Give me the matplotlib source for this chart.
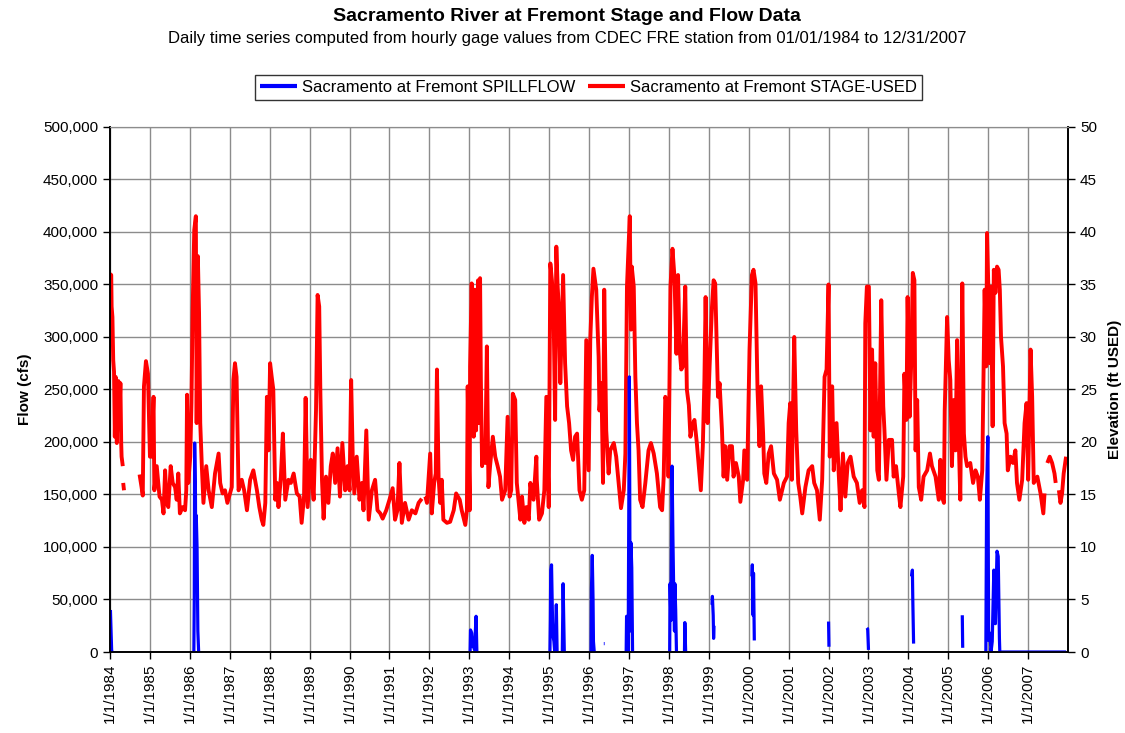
import numpy as np
import matplotlib
matplotlib.use("Agg")
import matplotlib.pyplot as plt

plt.rcParams['font.family'] = ['Liberation Sans', 'DejaVu Sans']

nan = np.nan

# daily stage at Fremont (ft USED), decimal year -> elevation; nan marks missing days
stage_pts = [
    (1984.00, 36.0), (1984.03, 35.9), (1984.04, 32.9), (1984.06, 31.9), (1984.07, 29.6),
    (1984.08, 27.8), (1984.10, 26.7), (1984.12, 20.5), (1984.14, 26.2), (1984.17, 19.9),
    (1984.21, 25.8), (1984.23, 21.8), (1984.26, 25.6), (1984.28, 19.9), (1984.29, 18.6),
    (1984.32, 17.7), (1984.325, nan), (1984.33, 16.1), (1984.35, 15.4), (1984.36, nan),
    (1984.74, 16.9), (1984.79, 15.7), (1984.82, 14.9), (1984.85, 25.3), (1984.90, 27.7),
    (1984.95, 26.5), (1985.00, 18.6), (1985.04, 18.6), (1985.09, 24.3), (1985.11, 15.4),
    (1985.17, 17.7), (1985.24, 14.8), (1985.30, 14.5), (1985.34, 13.2), (1985.38, 17.3),
    (1985.42, 14.2), (1985.46, 13.8), (1985.52, 17.7), (1985.57, 16.1), (1985.63, 15.7),
    (1985.67, 14.5), (1985.71, 17.0), (1985.75, 13.2), (1985.82, 13.8), (1985.88, 13.5),
    (1985.91, 15.4), (1985.93, 24.5), (1985.96, 16.1), (1986.01, 18.6), (1986.04, 23.7),
    (1986.07, 32.6), (1986.11, 40.2), (1986.15, 41.5), (1986.17, 21.8), (1986.20, 37.7),
    (1986.23, 32.3), (1986.26, 21.8), (1986.30, 17.7), (1986.34, 14.2), (1986.41, 17.7),
    (1986.47, 15.4), (1986.55, 13.8), (1986.63, 17.0), (1986.72, 18.9), (1986.76, 16.1),
    (1986.82, 15.1), (1986.88, 15.4), (1986.94, 14.2), (1987.05, 15.7), (1987.09, 25.9),
    (1987.13, 27.5), (1987.17, 26.2), (1987.22, 15.4), (1987.30, 16.4), (1987.36, 15.4),
    (1987.43, 13.5), (1987.51, 16.4), (1987.59, 17.3), (1987.68, 15.4), (1987.74, 13.8),
    (1987.80, 12.6), (1987.84, 12.1), (1987.89, 14.2), (1987.93, 24.3), (1987.97, 19.2),
    (1988.01, 27.5), (1988.05, 26.2), (1988.09, 25.0), (1988.14, 14.5), (1988.18, 16.1),
    (1988.22, 13.8), (1988.28, 16.7), (1988.33, 20.8), (1988.39, 14.5), (1988.47, 16.4),
    (1988.53, 16.1), (1988.60, 17.0), (1988.68, 15.1), (1988.75, 14.8), (1988.80, 12.3),
    (1988.86, 14.8), (1988.90, 24.2), (1988.95, 13.8), (1989.03, 18.3), (1989.10, 14.5),
    (1989.16, 23.0), (1989.20, 34.0), (1989.24, 32.9), (1989.27, 24.5), (1989.31, 16.4),
    (1989.35, 12.7), (1989.41, 16.7), (1989.47, 14.2), (1989.53, 17.7), (1989.58, 18.9),
    (1989.64, 16.1), (1989.70, 19.4), (1989.76, 14.8), (1989.82, 19.9), (1989.89, 15.4),
    (1989.95, 17.7), (1990.00, 15.4), (1990.04, 25.9), (1990.08, 18.6), (1990.12, 15.1),
    (1990.18, 18.6), (1990.25, 14.5), (1990.31, 16.1), (1990.35, 13.5), (1990.42, 21.1),
    (1990.48, 12.6), (1990.56, 15.4), (1990.64, 16.4), (1990.70, 13.5), (1990.77, 13.2),
    (1990.83, 12.7), (1990.92, 13.5), (1991.00, 14.5), (1991.08, 15.6), (1991.14, 12.6),
    (1991.20, 13.5), (1991.25, 18.0), (1991.31, 12.3), (1991.39, 14.2), (1991.48, 12.6),
    (1991.56, 13.5), (1991.65, 13.2), (1991.73, 14.2), (1991.81, 14.6), (1991.85, nan),
    (1991.90, 14.8), (1991.94, 14.2), (1992.02, 18.9), (1992.06, 13.2), (1992.12, 16.1),
    (1992.16, 17.0), (1992.19, 26.9), (1992.23, 16.7), (1992.27, 14.2), (1992.31, 16.4),
    (1992.35, 12.6), (1992.44, 12.3), (1992.52, 12.4), (1992.61, 13.5), (1992.67, 15.1),
    (1992.76, 14.5), (1992.81, 13.5), (1992.90, 12.1), (1992.94, 13.5), (1992.96, 25.3),
    (1993.01, 13.5), (1993.02, 27.2), (1993.06, 35.1), (1993.11, 20.5), (1993.14, 34.5),
    (1993.17, 21.1), (1993.22, 35.4), (1993.24, 21.8), (1993.27, 35.6), (1993.29, 25.9),
    (1993.32, 17.7), (1993.36, 19.9), (1993.40, 18.0), (1993.44, 29.1), (1993.48, 15.7),
    (1993.52, 17.7), (1993.59, 20.5), (1993.65, 18.6), (1993.71, 17.7), (1993.77, 16.7),
    (1993.82, 14.5), (1993.90, 15.4), (1993.96, 22.4), (1994.01, 14.8), (1994.05, 15.4),
    (1994.09, 24.6), (1994.15, 24.0), (1994.19, 16.1), (1994.28, 12.6), (1994.32, 14.8),
    (1994.38, 12.3), (1994.43, 13.8), (1994.49, 12.6), (1994.53, 16.1), (1994.57, 14.8),
    (1994.61, 14.5), (1994.68, 18.6), (1994.69, 16.4), (1994.75, 12.6), (1994.82, 13.2),
    (1994.88, 15.4), (1994.93, 24.3), (1994.99, 13.8), (1995.03, 37.0), (1995.07, 35.4),
    (1995.11, 32.6), (1995.15, 22.1), (1995.18, 38.6), (1995.21, 35.1), (1995.24, 32.9),
    (1995.28, 25.6), (1995.35, 35.9), (1995.40, 27.5), (1995.45, 23.4), (1995.50, 21.8),
    (1995.55, 19.2), (1995.60, 18.3), (1995.65, 20.5), (1995.70, 20.8), (1995.76, 15.4),
    (1995.82, 14.5), (1995.88, 15.4), (1995.93, 29.7), (1995.99, 17.3), (1996.03, 29.7),
    (1996.07, 33.8), (1996.11, 36.5), (1996.18, 34.5), (1996.24, 28.1), (1996.26, 23.0),
    (1996.31, 25.6), (1996.35, 16.1), (1996.38, 34.5), (1996.43, 21.1), (1996.49, 17.0),
    (1996.53, 19.2), (1996.62, 19.9), (1996.68, 18.6), (1996.74, 16.1), (1996.80, 13.7),
    (1996.87, 15.4), (1996.91, 18.9), (1996.95, 34.8), (1997.02, 41.5), (1997.05, 30.7),
    (1997.07, 36.7), (1997.12, 34.8), (1997.16, 26.2), (1997.20, 21.8), (1997.24, 19.2),
    (1997.28, 14.5), (1997.34, 13.8), (1997.41, 16.1), (1997.49, 19.2), (1997.55, 19.9),
    (1997.62, 18.9), (1997.70, 17.0), (1997.78, 13.8), (1997.83, 13.5), (1997.87, 16.7),
    (1997.91, 24.3), (1997.97, 23.4), (1997.99, 16.7), (1998.04, 34.8), (1998.09, 38.4),
    (1998.14, 35.7), (1998.19, 28.4), (1998.23, 35.9), (1998.27, 28.8), (1998.31, 26.9),
    (1998.35, 27.2), (1998.41, 34.8), (1998.45, 25.0), (1998.50, 23.5), (1998.54, 20.5),
    (1998.58, 21.5), (1998.64, 22.1), (1998.70, 19.9), (1998.77, 16.7), (1998.80, 15.4),
    (1998.85, 19.6), (1998.89, 25.9), (1998.92, 33.8), (1998.97, 21.8), (1999.02, 27.2),
    (1999.08, 32.9), (1999.12, 35.4), (1999.16, 35.1), (1999.21, 27.5), (1999.23, 24.3),
    (1999.27, 25.6), (1999.33, 21.1), (1999.37, 16.7), (1999.41, 19.6), (1999.46, 16.4),
    (1999.52, 19.6), (1999.58, 19.6), (1999.62, 16.7), (1999.68, 18.0), (1999.75, 16.7),
    (1999.79, 14.3), (1999.86, 16.4), (1999.89, 19.2), (1999.96, 16.4), (2000.02, 28.8),
    (2000.08, 35.9), (2000.12, 36.4), (2000.17, 35.1), (2000.22, 25.0), (2000.27, 19.6),
    (2000.31, 25.3), (2000.36, 20.8), (2000.39, 17.0), (2000.44, 16.1), (2000.50, 18.9),
    (2000.56, 19.6), (2000.63, 17.0), (2000.71, 16.4), (2000.78, 14.5), (2000.88, 16.1),
    (2000.96, 16.7), (2001.00, 21.8), (2001.04, 23.7), (2001.08, 16.4), (2001.14, 30.0),
    (2001.19, 21.1), (2001.24, 16.1), (2001.29, 14.8), (2001.34, 13.2), (2001.42, 15.7),
    (2001.50, 17.3), (2001.59, 17.7), (2001.64, 16.1), (2001.71, 15.4), (2001.78, 12.6),
    (2001.84, 16.4), (2001.90, 26.2), (2001.95, 26.9), (2002.00, 35.0), (2002.03, 18.6),
    (2002.09, 25.3), (2002.13, 17.3), (2002.20, 21.8), (2002.25, 17.3), (2002.30, 13.5),
    (2002.36, 18.9), (2002.42, 14.8), (2002.48, 18.0), (2002.55, 18.6), (2002.63, 16.7),
    (2002.71, 16.1), (2002.78, 14.2), (2002.84, 15.4), (2002.90, 13.8), (2002.92, 31.3),
    (2002.96, 34.8), (2003.01, 34.8), (2003.05, 21.1), (2003.09, 28.8), (2003.13, 20.5),
    (2003.17, 27.5), (2003.22, 17.3), (2003.26, 16.4), (2003.32, 33.5), (2003.37, 23.4),
    (2003.40, 21.1), (2003.45, 16.4), (2003.51, 20.2), (2003.59, 20.2), (2003.63, 16.7),
    (2003.69, 17.7), (2003.76, 15.1), (2003.80, 13.8), (2003.87, 16.7), (2003.90, 26.5),
    (2003.95, 22.1), (2003.98, 33.8), (2004.03, 22.4), (2004.07, 27.5), (2004.11, 36.1),
    (2004.15, 35.4), (2004.18, 19.2), (2004.22, 24.0), (2004.26, 15.7), (2004.32, 14.5),
    (2004.38, 16.7), (2004.47, 17.3), (2004.54, 18.9), (2004.59, 17.7), (2004.68, 16.7),
    (2004.76, 14.5), (2004.80, 18.3), (2004.84, 14.8), (2004.89, 14.2), (2004.91, 23.0),
    (2004.97, 31.9), (2005.01, 27.8), (2005.05, 25.9), (2005.09, 17.7), (2005.14, 24.0),
    (2005.18, 19.2), (2005.22, 29.7), (2005.26, 20.5), (2005.30, 14.5), (2005.35, 35.1),
    (2005.39, 20.8), (2005.43, 18.6), (2005.47, 17.7), (2005.55, 18.0), (2005.62, 16.1),
    (2005.68, 17.3), (2005.74, 16.7), (2005.79, 14.5), (2005.85, 17.3), (2005.87, 23.0),
    (2005.91, 34.5), (2005.95, 27.2), (2005.97, 39.9), (2006.00, 35.1), (2006.04, 27.5),
    (2006.07, 34.8), (2006.11, 21.5), (2006.14, 36.4), (2006.18, 34.2), (2006.22, 36.7),
    (2006.26, 36.4), (2006.29, 34.5), (2006.32, 30.0), (2006.37, 27.2), (2006.41, 21.8),
    (2006.46, 20.8), (2006.49, 17.3), (2006.56, 18.6), (2006.62, 18.0), (2006.68, 19.2),
    (2006.72, 16.1), (2006.78, 14.5), (2006.85, 16.4), (2006.91, 21.8), (2006.96, 23.7),
    (2007.00, 16.4), (2007.06, 28.8), (2007.10, 24.3), (2007.14, 16.1), (2007.23, 16.7),
    (2007.31, 15.1), (2007.38, 13.2), (2007.41, 15.1), (2007.45, nan), (2007.48, 18.0),
    (2007.54, 18.6), (2007.60, 18.0), (2007.66, 17.0), (2007.69, 16.1), (2007.73, nan),
    (2007.77, 15.4), (2007.81, 14.2), (2007.85, 15.1), (2007.89, 17.0), (2007.95, 18.6),
]

# daily spill flow over Fremont weir (cfs); nan where no record
flow_pts = [
    (1984.01, 40000), (1984.04, 2000), (1984.05, 0), (1984.06, nan),
    (1986.10, 0), (1986.11, 50000), (1986.12, 199000), (1986.14, 150000), (1986.15, 60000),
    (1986.16, 130000), (1986.18, 100000), (1986.20, 20000), (1986.22, 0), (1986.23, nan),
    (1993.02, 0), (1993.03, 21000), (1993.06, 18000), (1993.08, 5000), (1993.10, 12000),
    (1993.13, 2000), (1993.17, 34000), (1993.19, 0), (1993.20, nan),
    (1995.02, 0), (1995.03, 30000), (1995.04, 78000), (1995.06, 83000), (1995.08, 40000),
    (1995.10, 15000), (1995.12, 10000), (1995.14, 0), (1995.16, 0), (1995.18, 45000),
    (1995.20, 0), (1995.21, nan), (1995.33, 0), (1995.35, 65000), (1995.38, 0), (1995.39, nan),
    (1996.05, 0), (1996.06, 60000), (1996.08, 92000), (1996.10, 50000), (1996.11, 10000),
    (1996.13, 0), (1996.14, nan), (1996.37, 8000), (1996.39, 8000), (1996.40, nan),
    (1996.93, 0), (1996.94, 34000), (1996.96, 20000), (1996.98, 0), (1997.01, 262000),
    (1997.03, 20000), (1997.05, 104000), (1997.07, 80000), (1997.09, 0), (1997.10, nan),
    (1998.02, 0), (1998.03, 65000), (1998.05, 30000), (1998.08, 177000), (1998.10, 110000),
    (1998.12, 60000), (1998.14, 20000), (1998.15, 65000), (1998.17, 40000), (1998.19, 0),
    (1998.20, nan), (1998.39, 0), (1998.40, 28000), (1998.42, 0), (1998.43, nan),
    (1999.08, 45000), (1999.09, 53000), (1999.11, 35000), (1999.12, 13000), (1999.13, 25000),
    (1999.14, nan),
    (2000.08, 72000), (2000.09, 83000), (2000.10, 60000), (2000.11, 35000), (2000.12, 75000),
    (2000.14, 11000), (2000.15, nan),
    (2002.00, 29000), (2002.01, 5000), (2002.02, nan),
    (2002.96, 23000), (2002.98, 22000), (2003.00, 2000), (2003.01, nan),
    (2004.08, 72000), (2004.10, 78000), (2004.11, 50000), (2004.13, 8000), (2004.14, nan),
    (2005.35, 35000), (2005.36, 4000), (2005.37, nan),
    (2005.94, 0), (2005.96, 154000), (2005.99, 205000), (2006.01, 11000), (2006.04, 18000),
    (2006.07, 0), (2006.10, 10000), (2006.14, 78000), (2006.18, 27000), (2006.22, 96000),
    (2006.25, 91000), (2006.28, 13000), (2006.29, 0), (2007.95, 0),
]

years = list(range(1984, 2008))
year_labels = ['1/1/%d' % y for y in years]
flow_ticks = list(range(0, 500001, 50000))
stage_ticks = list(range(0, 51, 5))

stage_t, stage_ft = np.array(stage_pts, dtype=float).T
flow_t, flow_cfs = np.array(flow_pts, dtype=float).T

fig = plt.figure(figsize=(11.25, 7.33), dpi=100)
ax_stage = fig.add_axes([0.0978, 0.1105, 0.8516, 0.7163])
ax_flow = ax_stage.twinx()
# flow axis sits on top so the blue spikes cover the stage line
ax_flow.set_zorder(ax_stage.get_zorder() + 1)
ax_flow.patch.set_visible(False)

ax_stage.plot(stage_t, stage_ft, color='#ff0000', lw=2.8, solid_capstyle='butt',
              label='Sacramento at Fremont STAGE-USED')
ax_flow.plot(flow_t, flow_cfs, color='#0000ff', lw=2.3, solid_capstyle='butt',
             label='Sacramento at Fremont SPILLFLOW')

ax_stage.set_xlim(1984, 2008)
ax_stage.set_ylim(0, 50)
ax_flow.set_ylim(0, 500000)

# stage axis lives on the right, flow on the left
ax_stage.yaxis.tick_right()
ax_stage.yaxis.set_label_position('right')
ax_flow.yaxis.tick_left()
ax_flow.yaxis.set_label_position('left')

ax_stage.set_yticks(stage_ticks)
ax_flow.set_yticks(flow_ticks)
ax_flow.set_yticklabels(['{:,}'.format(v) for v in flow_ticks])
ax_stage.set_xticks(years)
ax_stage.set_xticklabels(year_labels, rotation=90)

ax_stage.grid(True, color='#8c8c8c', lw=1.0)
ax_stage.set_axisbelow(True)

for a in (ax_stage, ax_flow):
    a.tick_params(labelsize=11, length=5, width=1, direction='out', color='black')
    a.spines['top'].set_color('#8c8c8c')
    for s in ('left', 'right', 'bottom'):
        a.spines[s].set_color('black')
        a.spines[s].set_linewidth(1.2)

ax_flow.set_ylabel('Flow (cfs)', fontsize=11, fontweight='bold', labelpad=8)
ax_stage.set_ylabel('Elevation (ft USED)', fontsize=11, fontweight='bold', labelpad=8)

fig.text(0.504, 0.978, 'Sacramento River at Fremont Stage and Flow Data',
         ha='center', va='center', fontsize=14, fontweight='bold')
fig.text(0.504, 0.948,
         'Daily time series computed from hourly gage values from CDEC FRE station '
         'from 01/01/1984 to 12/31/2007',
         ha='center', va='center', fontsize=12)

handles = ax_flow.get_lines() + ax_stage.get_lines()
leg = fig.legend(handles, [h.get_label() for h in handles], loc='center',
                 bbox_to_anchor=(0.523, 0.881), ncol=2, fontsize=12,
                 frameon=True, fancybox=False, handlelength=2.2,
                 handletextpad=0.3, columnspacing=0.8, borderpad=0.3)
leg.get_frame().set_edgecolor('black')
leg.get_frame().set_linewidth(1.0)
for h in leg.get_lines():
    h.set_linewidth(3)

fig.savefig('out.png', dpi=100)
